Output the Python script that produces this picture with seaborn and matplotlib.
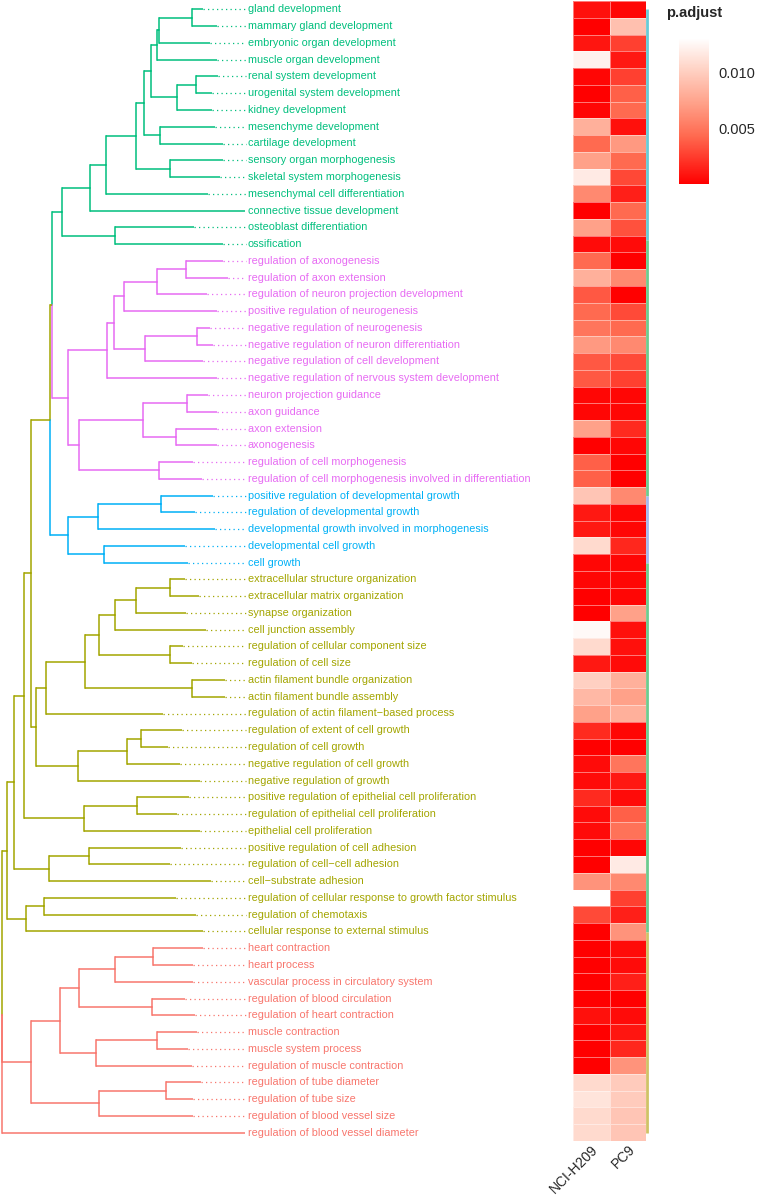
import matplotlib
matplotlib.use('Agg')
import matplotlib.pyplot as plt
from matplotlib.colors import LinearSegmentedColormap
from matplotlib.ticker import FormatStrFormatter
import pandas as pd
import seaborn as sns

sns.set_style('white')
plt.rcParams['font.family'] = ['Liberation Sans', 'DejaVu Sans']

# GO terms, top to bottom
terms = [
    'gland development', 'mammary gland development', 'embryonic organ development',
    'muscle organ development', 'renal system development', 'urogenital system development',
    'kidney development', 'mesenchyme development', 'cartilage development',
    'sensory organ morphogenesis', 'skeletal system morphogenesis',
    'mesenchymal cell differentiation', 'connective tissue development',
    'osteoblast differentiation', 'ossification',
    'regulation of axonogenesis', 'regulation of axon extension',
    'regulation of neuron projection development', 'positive regulation of neurogenesis',
    'negative regulation of neurogenesis', 'negative regulation of neuron differentiation',
    'negative regulation of cell development', 'negative regulation of nervous system development',
    'neuron projection guidance', 'axon guidance', 'axon extension', 'axonogenesis',
    'regulation of cell morphogenesis',
    'regulation of cell morphogenesis involved in differentiation',
    'positive regulation of developmental growth', 'regulation of developmental growth',
    'developmental growth involved in morphogenesis', 'developmental cell growth', 'cell growth',
    'extracellular structure organization', 'extracellular matrix organization',
    'synapse organization', 'cell junction assembly', 'regulation of cellular component size',
    'regulation of cell size', 'actin filament bundle organization',
    'actin filament bundle assembly', 'regulation of actin filament\u2212based process',
    'regulation of extent of cell growth', 'regulation of cell growth',
    'negative regulation of cell growth', 'negative regulation of growth',
    'positive regulation of epithelial cell proliferation',
    'regulation of epithelial cell proliferation', 'epithelial cell proliferation',
    'positive regulation of cell adhesion', 'regulation of cell\u2212cell adhesion',
    'cell\u2212substrate adhesion',
    'regulation of cellular response to growth factor stimulus',
    'regulation of chemotaxis', 'cellular response to external stimulus',
    'heart contraction', 'heart process', 'vascular process in circulatory system',
    'regulation of blood circulation', 'regulation of heart contraction',
    'muscle contraction', 'muscle system process', 'regulation of muscle contraction',
    'regulation of tube diameter', 'regulation of tube size',
    'regulation of blood vessel size', 'regulation of blood vessel diameter',
]

cluster = (['green'] * 15 + ['pink'] * 14 + ['blue'] * 5 + ['olive'] * 22 + ['red'] * 12)

# distance of each leaf tip from the root
tip_depth = [
    203, 217, 210, 217, 218, 212, 212, 215, 223, 223, 220, 208, 245, 194, 223,
    223, 228, 207, 217, 210, 213, 203, 217, 208, 217, 217, 217, 193, 202,
    213, 195, 215, 185, 188,
    185, 199, 186, 206, 183, 192, 225, 225, 163, 182, 168, 180, 200, 189, 177,
    200, 181, 170, 211, 176, 196, 203,
    203, 193, 193, 185, 195, 197, 188, 192, 201, 193, 193, 245,
]

# internal nodes: (children, depth); leaves are 0..67, merges numbered from 68
merges = [
    ((0, 1), 192), ((68, 2), 159), ((69, 3), 157), ((4, 5), 196), ((71, 6), 177),
    ((70, 72), 151), ((7, 8), 160), ((73, 74), 144), ((9, 10), 170), ((75, 76), 136),
    ((77, 11), 106), ((78, 12), 90), ((13, 14), 115), ((79, 80), 62),
    ((15, 16), 186), ((82, 17), 157), ((83, 18), 124), ((19, 20), 197), ((85, 21), 145),
    ((84, 86), 114), ((87, 22), 107), ((23, 24), 187), ((25, 26), 176), ((89, 90), 143),
    ((27, 28), 159), ((91, 92), 79), ((88, 93), 68),
    ((81, 94), 52),
    ((29, 30), 161), ((96, 31), 98), ((32, 33), 104), ((97, 98), 68),
    ((95, 99), 50),
    ((34, 35), 170), ((101, 36), 136), ((102, 37), 115), ((38, 39), 170),
    ((103, 104), 99), ((40, 41), 192), ((105, 106), 85), ((107, 42), 46),
    ((43, 44), 141), ((109, 45), 127), ((110, 46), 78), ((108, 111), 36),
    ((100, 112), 31), ((47, 48), 137), ((114, 49), 84), ((113, 115), 24),
    ((50, 51), 89), ((117, 52), 49), ((116, 118), 14), ((53, 54), 44),
    ((120, 55), 26), ((119, 121), 7),
    ((56, 57), 153), ((123, 58), 115), ((59, 60), 152), ((124, 125), 79),
    ((61, 62), 157), ((127, 63), 96), ((126, 128), 60), ((64, 65), 166),
    ((130, 66), 99), ((129, 131), 31),
    ((122, 132, 67), 2),
]

nci_h209 = [
    0.0008, 0.0001, 0.0010, 0.0122, 0.0004, 0.0001, 0.0004, 0.0082, 0.0044, 0.0073,
    0.0118, 0.0060, 0.0001, 0.0073, 0.0006, 0.0044, 0.0082, 0.0037, 0.0044, 0.0050,
    0.0069, 0.0037, 0.0037, 0.0004, 0.0004, 0.0073, 0.0001, 0.0040, 0.0040, 0.0095,
    0.0011, 0.0011, 0.0108, 0.0004, 0.0004, 0.0001, 0.0001, 0.0127, 0.0108, 0.0011,
    0.0102, 0.0087, 0.0073, 0.0018, 0.0001, 0.0006, 0.0006, 0.0018, 0.0006, 0.0006,
    0.0001, 0.0001, 0.0066, 0.0131, 0.0031, 0.0001, 0.0001, 0.0001, 0.0001, 0.0001,
    0.0008, 0.0001, 0.0001, 0.0001, 0.0108, 0.0114, 0.0108, 0.0108,
]
pc9 = [
    0.0004, 0.0092, 0.0027, 0.0011, 0.0027, 0.0040, 0.0044, 0.0008, 0.0069, 0.0044,
    0.0030, 0.0014, 0.0044, 0.0034, 0.0006, 0.0001, 0.0060, 0.0001, 0.0031, 0.0044,
    0.0060, 0.0031, 0.0027, 0.0004, 0.0004, 0.0018, 0.0004, 0.0001, 0.0001, 0.0060,
    0.0004, 0.0004, 0.0017, 0.0004, 0.0004, 0.0004, 0.0073, 0.0008, 0.0008, 0.0006,
    0.0082, 0.0073, 0.0082, 0.0004, 0.0001, 0.0050, 0.0011, 0.0006, 0.0040, 0.0048,
    0.0004, 0.0118, 0.0060, 0.0027, 0.0014, 0.0066, 0.0006, 0.0006, 0.0014, 0.0001,
    0.0006, 0.0010, 0.0017, 0.0066, 0.0099, 0.0099, 0.0095, 0.0095,
]

# thin coloured strip at the right edge of the heatmap (row spans)
strip_start = [0.48, 14.26, 29.5, 33.5, 55.55]
strip_end = [14.26, 29.5, 33.5, 55.55, 67.5]
strip_color = ['#67CBD6', '#6DCB8E', '#A6B8EE', '#6DCB8E', '#CFC266']

palette = {'red': '#F8766D', 'olive': '#A3A500', 'green': '#00BF7D',
           'blue': '#00B0F6', 'pink': '#E76BF3'}

# ---- tree geometry
n = len(terms)
node_x = list(tip_depth)
node_y = [i + 0.5 for i in range(n)]
node_grp = list(cluster)
for kids, depth in merges:
    node_x.append(depth)
    node_y.append(sum(node_y[c] for c in kids) / len(kids))
    grps = {node_grp[c] for c in kids}
    node_grp.append(grps.pop() if len(grps) == 1 else 'olive')

W, H = 758, 1200
fig = plt.figure(figsize=(W / 100, H / 100), dpi=100)
bottom = (H - 1141) / H
height = 1140 / H
tax = fig.add_axes([0, bottom, 573 / W, height])
hax = fig.add_axes([573 / W, bottom, 73 / W, height])
cax = fig.add_axes([679 / W, (H - 184) / H, 30 / W, 146 / H])

label_x = 248
for k, (kids, depth) in enumerate(merges):
    p = n + k
    for c in kids:
        col = palette[node_grp[c]]
        tax.plot([depth, depth], [node_y[p], node_y[c]], color=col, lw=1.1,
                 solid_capstyle='projecting')
        tax.plot([depth, node_x[c]], [node_y[c], node_y[c]], color=col, lw=1.1,
                 solid_capstyle='butt')

for i, term in enumerate(terms):
    col = palette[cluster[i]]
    if tip_depth[i] < label_x - 4:
        tax.plot([tip_depth[i], label_x - 2], [node_y[i], node_y[i]], color=col,
                 lw=0.9, ls=(0, (1, 2.6)))
    tax.text(label_x, node_y[i], term, color=col, fontsize=7.85,
             ha='left', va='center')

tax.set_xlim(0, 573)
tax.set_ylim(n, 0)
tax.axis('off')

# ---- heatmap
df = pd.DataFrame({'NCI-H209': nci_h209, 'PC9': pc9}, index=terms)
cmap = LinearSegmentedColormap.from_list(
    'padj', [(0, '#FF0000'), (0.33, '#FF6A50'), (0.55, '#FFA088'),
             (0.8, '#FFD5C8'), (1, '#FFFFFF')])
sns.heatmap(df, ax=hax, cmap=cmap, vmin=0.0001, vmax=0.0131, cbar_ax=cax,
            linewidths=0.6, linecolor=(1, 1, 1, 0.45),
            cbar_kws={'ticks': [0.005, 0.010]})
hax.set_yticks([])
hax.set_ylabel('')
hax.set_xticklabels(df.columns, rotation=45, ha='right', va='top',
                    rotation_mode='anchor', fontsize=10)
hax.tick_params(axis='x', length=0, pad=1)

for a, b, c in zip(strip_start, strip_end, strip_color):
    hax.plot([2.04, 2.04], [a, b], color=c, lw=2, clip_on=False,
             solid_capstyle='butt')

cbar = hax.collections[0].colorbar
cbar.outline.set_visible(False)
cax.yaxis.set_major_formatter(FormatStrFormatter('%.3f'))
cax.yaxis.set_ticks_position('both')
cax.tick_params(axis='y', direction='in', length=5, width=1, color='white',
                labelsize=10.5, pad=7, labelleft=False, labelright=True)
fig.text(666 / W, 1 - 13 / H, 'p.adjust', fontsize=10.5, fontweight='bold',
         ha='left', va='center')

fig.savefig('out.png', dpi=100)
